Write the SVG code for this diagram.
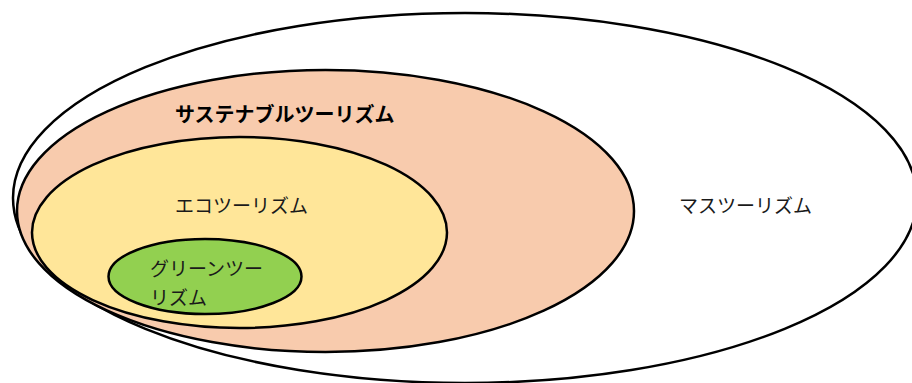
<svg xmlns="http://www.w3.org/2000/svg" width="912" height="383" viewBox="0 0 912 383">
  <style>
    .ring { stroke: #000000; stroke-width: 2.5; }
    .lbl { font-family: "Noto Sans CJK JP", "Noto Sans", sans-serif; font-size: 19px; fill: #1a1a1a; }
    .bold { font-weight: bold; font-size: 20px; fill: #000000; }
  </style>
  <rect width="912" height="383" fill="#ffffff"/>
  <g id="mass-tourism">
    <ellipse class="ring" cx="465" cy="198" rx="452" ry="185" fill="#ffffff"/>
    <text class="lbl" x="679" y="213">マスツーリズム</text>
  </g>
  <g id="sustainable-tourism">
    <ellipse class="ring" cx="325.5" cy="211" rx="308.5" ry="141" fill="#F8CBAD"/>
    <text class="lbl bold" x="175" y="122">サステナブルツーリズム</text>
  </g>
  <g id="eco-tourism">
    <ellipse class="ring" cx="239.5" cy="232.5" rx="207.5" ry="95.5" fill="#FFE699"/>
    <text class="lbl" x="175" y="213">エコツーリズム</text>
  </g>
  <g id="green-tourism">
    <ellipse class="ring" cx="205" cy="276.5" rx="96.5" ry="37.5" fill="#92D050"/>
    <text class="lbl" x="150" y="276">グリーンツー</text>
    <text class="lbl" x="150" y="305">リズム</text>
  </g>
  <g id="connectors"/>
</svg>
